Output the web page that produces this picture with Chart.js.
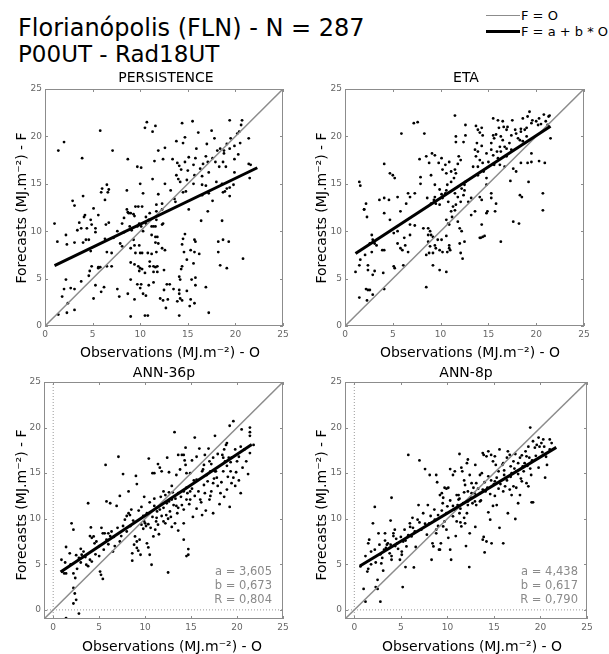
<!DOCTYPE html>
<html>
<head>
<meta charset="utf-8">
<script src="https://cdn.jsdelivr.net/npm/chart.js@4.4.1/dist/chart.umd.min.js"></script>
<style>
body{margin:0;background:#fff;}
#page{position:relative;width:609px;height:654px;overflow:hidden;font-family:"DejaVu Sans",sans-serif;color:#000;}
.box{position:absolute;}
.t{position:absolute;white-space:nowrap;line-height:1;}
.c{transform:translate(-50%,-50%);}
.r{transform:translate(-50%,-50%) rotate(-90deg);}
.stat{position:absolute;white-space:nowrap;font-size:11.5px;color:#8a8a8a;text-align:right;line-height:14px;}
.leg{position:absolute;left:486px;width:34px;}
</style>
</head>
<body>
<div id="page">
  <div class="box" style="left:0;top:68px;width:304px;height:300px"><canvas id="c0"></canvas></div>
  <div class="box" style="left:300px;top:68px;width:304px;height:300px"><canvas id="c1"></canvas></div>
  <div class="box" style="left:0;top:362px;width:304px;height:292px"><canvas id="c2"></canvas></div>
  <div class="box" style="left:300px;top:362px;width:304px;height:292px"><canvas id="c3"></canvas></div>

  <div class="t" style="left:18px;top:16px;font-size:24px">Florianópolis (FLN) - N = 287</div>
  <div class="t" style="left:18px;top:43px;font-size:23px">P00UT - Rad18UT</div>

  <div class="leg" style="top:15px;border-top:1.5px solid #8c8c8c"></div>
  <div class="t" style="left:521px;top:9px;font-size:13px">F = O</div>
  <div class="leg" style="top:30px;border-top:3px solid #000"></div>
  <div class="t" style="left:521px;top:25px;font-size:13px">F = a + b * O</div>

  <div id="labels"></div>
</div>
<script>
var persistencePts = [
[1.4,18.5],[2.0,19.4],[5.8,20.6],[3.9,17.7],[7.1,18.5],[10.7,21.5],[10.5,20.9],[11.6,21.1],[11.3,20.5],[14.4,21.4],[15.5,21.6],[19.4,21.7],[20.7,21.7],[20.6,21.2],[16.1,20.4],[17.5,20.6],[20.4,20.5],[20.2,20.3],[21.4,19.8],[13.8,19.5],[14.7,19.9],[14.5,19.3],[15.9,18.7],[17.0,19.2],[17.8,19.8],[19.5,19.8],[19.1,19.2],[19.9,19.0],[20.5,19.3],[18.4,18.7],[18.1,18.5],[18.8,18.5],[19.4,18.7],[18.8,18.2],[20.3,18.1],[12.6,18.8],[11.9,18.5],[8.7,17.6],[9.7,16.8],[10.1,16.7],[11.5,17.4],[12.4,17.6],[13.4,17.6],[13.9,17.2],[14.1,16.9],[14.7,17.3],[15.1,17.8],[15.8,17.7],[16.6,17.1],[17.1,17.3],[16.9,17.9],[17.6,17.7],[17.9,17.3],[18.7,17.3],[19.0,16.8],[18.3,16.8],[19.9,17.6],[21.4,17.1],[21.6,17.0],[21.5,15.6],[15.6,17.0],[16.3,16.6],[15.0,16.4],[15.7,15.9],[14.3,16.5],[13.8,15.9],[16.5,15.8],[17.2,16.2],[14.0,15.5],[14.2,15.2],[15.6,15.0],[16.5,14.9],[16.9,14.8],[18.0,15.2],[18.6,15.0],[19.1,14.5],[18.7,14.1],[19.4,14.6],[19.8,14.9],[19.9,16.2],[6.0,14.5],[6.5,14.9],[6.7,14.4],[6.6,14.1],[5.9,14.1],[10.0,15.0],[11.3,15.5],[12.6,15.0],[8.6,14.3],[10.3,14.0],[11.9,13.9],[13.2,14.3],[14.5,14.1],[14.8,14.2],[14.9,15.4],[13.6,13.4],[16.5,13.8],[17.2,14.0],[17.6,13.2],[18.9,14.2],[19.4,13.7],[2.9,13.2],[3.1,12.7],[4.0,13.7],[6.3,13.3],[9.5,12.6],[9.8,12.6],[10.2,12.6],[11.7,12.8],[12.3,12.9],[5.1,12.4],[8.6,12.3],[13.7,13.1],[15.1,12.3],
[1.0,10.8],[1.3,8.9],[2.2,9.6],[2.3,8.6],[3.1,8.8],[4.0,8.8],[3.6,10.9],[4.2,11.7],[4.1,11.5],[4.8,11.2],[4.9,10.7],[4.6,9.1],[5.3,9.9],[5.6,11.7],[6.4,10.7],[6.7,10.9],[6.3,9.2],[7.2,9.3],[7.6,10.0],[8.1,10.8],[8.3,11.4],[8.7,12.0],[8.8,11.9],[9.0,11.9],[9.3,11.8],[9.4,11.6],[9.9,10.8],[9.7,10.5],[8.9,10.5],[9.1,10.1],[7.9,8.7],[8.1,8.4],[8.3,9.9],[7.0,7.7],[9.0,8.2],[9.3,9.1],[9.4,8.5],[9.5,7.7],[10.0,7.7],[9.9,8.5],[10.1,10.5],[10.3,10.0],[10.6,10.8],[10.9,11.2],[11.2,10.5],[11.4,10.5],[11.6,10.5],[11.7,12.1],[12.3,12.3],[10.6,11.5],[11.0,11.9],[11.7,11.2],[11.2,9.6],[11.6,9.4],[11.8,9.4],[12.3,10.7],[12.4,10.8],[11.6,8.8],[11.9,8.7],[12.3,8.2],[12.6,8.0],[11.7,7.8],[11.2,7.6],[10.8,7.7],[10.2,7.7],[9.4,6.5],[9.0,6.7],[10.0,6.1],[9.8,6.3],[10.2,6.0],[9.9,5.8],[10.5,5.6],[11.0,6.3],[11.0,6.8],[11.4,6.3],[11.6,6.2],[11.8,6.3],[11.4,5.7],[11.8,5.7],[12.5,5.9],[9.7,4.4],[10.1,4.4],[10.9,4.3],[11.4,4.6],[12.5,3.8],[12.8,4.4],[12.1,2.9],[12.4,2.7],[12.7,1.9],[9.4,2.8],[10.3,3.4],[10.6,3.2],[10.0,4.0],[9.0,4.9],[8.7,3.4],[14.1,3.8],[14.1,3.4],[14.2,2.9],[14.4,2.7],[14.9,3.7],[15.3,2.8],[15.4,4.9],[15.8,4.3],[15.8,5.1],[16.9,4.1],[14.2,4.9],[14.3,6.0],[14.4,6.3],[14.9,7.0],[15.3,8.0],[15.7,7.8],[14.6,7.8],[14.4,8.6],[14.5,9.2],[14.7,9.7],[15.7,9.1],[15.8,8.9],[16.2,7.6],[15.6,6.6],[16.4,11.1],[17.1,12.1],[14.1,5.2],[12.9,2.8],[10.5,1.1],[10.8,1.1],[9.0,1.0],[7.8,3.1],[7.6,3.9],[7.0,6.3],[6.5,6.3],[5.6,6.1],[5.3,4.3],[5.1,2.9],[4.6,5.3],[3.8,4.7],[3.1,3.9],[2.7,4.0],[2.2,4.9],[1.8,3.1],[2.0,3.9],[2.4,2.4],[2.3,1.4],[1.4,1.2],[3.1,1.7],[4.8,7.9],[4.7,5.8],[4.9,6.3],[5.6,6.2],[5.8,6.2],[5.9,3.6],[6.2,4.1],[6.5,7.8],[3.8,10.3],[3.4,10.1],[4.4,10.3],[5.3,10.3],[4.3,9.1],[17.2,1.4],[18.6,11.1],[18.7,9.1],[18.2,7.8],[18.4,6.4],[19.1,6.1],[18.2,8.9],[19.3,8.9],[20.8,7.1],[15.2,2.1],[15.7,2.4],[14.1,1.1],[13.5,3.9],[13.1,4.4],[13.9,2.6]
];
var etaPts = [
[1.5,15.2],[1.6,14.8],[2.2,12.9],[2.0,12.3],[4.1,17.1],[4.7,16.1],[5.0,15.9],[5.2,15.6],[5.9,20.3],[7.2,21.4],[7.6,21.5],[8.3,20.3],[7.9,15.7],[9.1,18.2],[9.4,18.0],[9.0,15.9],[10.1,17.7],[9.8,17.2],[10.2,16.5],[10.6,16.1],[10.5,17.0],[10.9,17.3],[11.1,16.3],[11.5,22.2],[11.6,20.0],[11.6,19.4],[12.6,21.2],[12.6,20.1],[12.4,19.4],[11.9,17.9],[12.1,17.5],[11.8,17.1],[11.5,16.5],[11.6,16.1],[11.4,15.6],[11.1,15.2],[10.7,14.9],[10.6,14.3],[10.5,14.0],[9.9,14.4],[10.1,13.9],[9.4,14.9],[9.4,13.6],[9.3,13.3],[8.6,13.5],[9.0,12.9],[9.5,12.9],[9.9,12.8],[7.3,14.0],[6.6,14.0],[4.6,13.3],[4.1,13.5],[3.6,13.3],[5.5,13.6],[6.4,12.9],[13.7,21.1],[13.9,20.7],[14.3,20.9],[14.1,20.4],[14.4,20.1],[13.8,19.3],[14.3,19.0],[13.6,18.6],[13.9,18.4],[13.7,17.9],[14.1,17.5],[13.4,16.8],[13.9,16.8],[14.4,17.2],[14.5,16.3],[13.9,15.9],[14.8,15.6],[15.3,19.3],[15.5,20.1],[15.6,19.8],[15.8,20.2],[15.5,21.9],[16.0,21.7],[16.5,21.6],[16.6,21.0],[16.1,20.9],[16.9,20.7],[17.0,21.0],[17.5,21.7],[17.8,20.7],[17.4,20.1],[17.9,20.3],[18.1,19.8],[18.4,20.5],[18.6,21.9],[19.1,22.1],[19.3,22.6],[19.5,21.4],[19.6,21.7],[20.0,21.6],[20.2,21.2],[20.3,21.9],[20.5,21.3],[20.8,22.3],[21.0,21.6],[21.2,21.2],[21.3,22.1],[21.4,22.2],[21.5,19.8],[18.3,19.6],[18.6,19.5],[19.0,20.0],[18.8,20.7],[18.4,20.8],[19.0,20.9],[16.3,20.0],[16.5,19.6],[16.2,18.9],[16.7,18.9],[16.9,18.7],[17.2,19.3],[17.4,18.6],[14.8,18.2],[15.3,18.6],[15.5,18.0],[15.9,18.4],[16.0,17.7],[16.3,18.4],[16.9,17.9],[15.0,17.3],[15.6,17.0],[16.2,17.0],[16.7,16.8],[17.6,16.6],[17.9,16.3],[18.4,17.2],[19.1,17.2],[19.2,15.2],[19.5,18.2],[19.5,17.3],[20.3,17.4],[20.9,17.2],[20.7,14.0],[17.3,15.3],[18.3,13.8],[18.5,13.6],[15.3,14.0],[15.3,13.5],[15.8,12.9],[14.1,13.6],[14.3,13.3],[13.2,13.5],[12.9,13.1],[12.4,13.8],[12.5,14.3],[12.5,14.9],[12.6,15.2],[12.2,14.5],[11.5,14.0],[11.8,13.6],[12.1,13.1],[11.3,12.6],[11.6,12.8],[10.8,13.1],[10.2,13.5],[7.9,15.0],[6.8,13.6],[8.8,17.2],[8.5,17.9],[7.8,17.6],[14.8,14.9],
[2.0,12.3],[2.3,11.5],[4.1,11.9],[5.8,12.1],[6.8,10.7],[7.3,10.6],[4.7,11.2],[5.1,9.8],[5.5,10.0],[6.2,9.3],[6.8,9.6],[5.5,8.7],[5.8,8.2],[6.3,8.5],[6.6,7.8],[6.0,8.0],[6.1,6.4],[5.2,6.1],[5.1,6.3],[4.0,5.6],[3.1,5.8],[2.4,5.9],[2.4,6.4],[2.6,8.7],[2.8,9.6],[2.9,9.1],[3.1,8.7],[3.3,8.5],[2.8,7.8],[2.1,7.5],[1.6,7.0],[1.5,6.4],[1.1,5.7],[2.9,5.4],[4.1,8.0],[3.9,8.0],[2.2,3.9],[2.4,3.8],[2.6,3.8],[2.3,2.7],[2.9,3.3],[1.5,3.0],[4.1,3.9],[8.5,4.1],[8.2,10.3],[8.7,10.3],[8.9,10.0],[8.7,9.6],[9.0,9.6],[9.2,9.4],[8.7,8.9],[8.9,8.4],[9.4,8.5],[9.5,8.2],[9.7,9.1],[10.1,9.1],[9.9,8.0],[10.2,7.8],[9.2,7.7],[8.8,7.7],[8.5,7.5],[9.2,6.4],[10.6,9.5],[10.8,10.8],[10.9,10.7],[11.1,12.1],[11.2,11.5],[11.5,12.2],[10.6,11.2],[11.8,11.0],[12.0,10.3],[12.2,10.0],[12.0,8.7],[12.5,8.9],[12.1,7.7],[12.3,7.1],[10.6,5.7],[10.9,8.2],[10.7,7.8],[10.9,8.5],[11.0,8.0],[9.9,5.9],[14.3,10.7],[14.1,9.3],[14.2,9.3],[14.4,9.4],[14.6,9.5],[14.8,11.9],[14.9,12.1],[15.7,12.1],[16.3,8.9],[17.6,11.0],[18.2,10.8],[20.7,12.2],[13.6,12.1],[13.2,11.7]
];
var ann36Pts = [
[5.7,15.9],[7.1,16.8],[7.6,14.9],[9.0,14.7],[9.1,13.8],[8.2,13.0],[10.4,16.6],[11.4,16.0],[11.6,15.6],[10.8,15.0],[11.0,15.0],[11.8,15.2],[12.4,16.7],[12.6,15.1],[13.2,19.5],[13.4,14.8],[13.8,15.4],[13.6,17.0],[14.0,17.0],[14.2,17.0],[14.3,16.4],[14.4,17.8],[14.4,15.9],[14.5,15.0],[15.1,16.4],[15.4,18.9],[15.6,16.8],[15.9,17.7],[16.4,15.9],[16.3,15.4],[16.5,17.0],[16.9,17.7],[16.7,14.8],[17.0,16.3],[17.2,16.0],[17.4,16.7],[17.6,19.1],[17.9,17.1],[17.7,15.2],[17.8,14.5],[18.4,17.0],[18.5,16.7],[18.6,17.6],[18.8,18.1],[18.9,18.3],[18.7,16.3],[18.9,15.8],[19.1,16.7],[19.3,16.2],[19.4,16.7],[19.2,20.2],[19.6,20.7],[19.8,17.6],[20.0,16.3],[20.2,16.8],[20.4,17.9],[20.5,19.8],[20.8,17.6],[21.4,20.0],[21.4,19.5],[21.4,19.1],[21.8,18.1],[21.4,17.2],[18.5,15.2],[19.3,15.2],[19.6,14.5],[19.8,13.6],[20.4,12.8],[18.9,13.2],[18.2,12.8],[17.2,13.0],[17.4,13.9],[16.4,13.7],[15.6,14.3],[15.3,14.2],[14.9,13.0],[14.5,13.4],[14.2,13.0],[13.6,12.8],[12.9,13.6],[12.6,12.9],[12.0,13.0],[12.2,12.6],[11.0,12.2],[9.9,12.4],[14.9,15.0],[16.2,15.2],[17.1,15.2],[17.6,15.2],
[0.9,5.5],[1.0,4.2],[1.2,4.0],[1.4,4.0],[1.4,6.9],[1.8,6.2],[2.0,9.5],[2.2,8.8],[2.4,3.5],[2.2,4.0],[2.6,4.5],[2.8,5.7],[3.0,6.7],[3.1,6.05],[3.3,6.4],[3.6,4.95],[3.8,4.8],[4.0,5.5],[3.8,11.7],[4.0,8.1],[4.1,9.05],[4.2,7.9],[4.4,8.06],[4.5,7.3],[4.7,7.5],[5.0,5.9],[5.1,4.2],[5.2,3.85],[5.4,3.4],[5.25,9.0],[5.4,8.4],[5.6,8.4],[5.8,7.7],[6.0,8.4],[6.2,8.1],[6.35,8.6],[6.2,11.7],[6.5,6.4],[6.7,7.0],[6.9,11.4],[7.25,7.5],[7.6,9.2],[7.8,9.9],[8.0,10.3],[8.2,10.6],[8.35,10.4],[8.5,11.0],[8.7,9.8],[8.9,8.06],[8.6,6.2],[8.6,5.4],[8.8,7.15],[9.1,7.5],[9.1,6.8],[9.25,6.5],[9.4,7.7],[9.5,6.05],[9.6,9.35],[9.8,10.3],[9.9,9.7],[10.0,9.5],[10.1,9.2],[10.35,9.4],[10.2,7.3],[10.35,6.85],[10.5,6.05],[10.7,4.95],[10.9,8.06],[11.1,8.8],[11.2,9.7],[11.25,10.1],[11.4,9.35],[11.6,11.0],[11.8,10.3],[12.0,9.7],[12.2,9.5],[12.35,11.7],[12.5,10.0],[12.7,10.8],[12.9,12.1],[13.1,11.5],[13.25,9.5],[13.4,11.4],[13.6,11.2],[14.0,11.5],[14.2,9.5],[14.2,7.7],[14.5,5.9],[14.7,6.05],[14.7,6.67],[12.5,4.1],[15.6,11.1],[16.2,10.4],[17.4,10.6],[16.0,12.1],[19.2,11.3],[14.9,12.1],[14.5,12.1],[17.1,12.5],[5.8,11.9],[7.25,12.5],[2.2,2.4],[2.35,1.8],[2.2,0.7],[1.4,-0.9],[2.8,-0.4],[2.5,1.1],
[9.3,10.9],[9.6,11.3],[10.2,10.6],[10.5,11.8],[10.8,10.2],[11.0,11.4],[11.3,10.8],[11.7,12.4],[12.0,11.2],[12.3,10.4],[12.6,11.9],[12.8,10.2],[13.0,12.9],[13.3,12.2],[13.5,10.6],[13.9,12.4],[14.2,11.0],[14.6,12.8],[14.8,11.6],[15.1,13.3],[15.4,12.5],[15.8,13.0],[16.1,11.8],[16.5,12.8],[16.8,14.1],[17.0,12.1],[17.5,14.4],[17.9,13.6],[18.3,14.0],[18.6,12.4],[19.0,14.6],[19.4,13.9],[19.9,15.1],[20.2,14.2],[20.6,15.6],[21.0,16.3],[21.2,14.9],[8.4,9.2],[8.0,8.6],[7.4,8.1],[7.0,9.0],[6.6,8.0],[6.0,7.2],[5.5,6.6],[5.0,7.0],[4.6,6.1],[4.2,5.3],[3.5,5.8],[3.0,5.2],[2.5,6.0],[1.9,5.0],[1.3,5.2],[9.8,8.9],[10.6,9.0],[11.5,8.3],[12.9,9.1],[13.6,8.7],[15.2,10.2],[16.6,10.9],[18.1,11.6]
];
var ann8Pts = [
[4.0,12.3],[5.8,17.0],[7.0,16.4],[7.6,15.45],[8.1,14.8],[8.8,14.8],[8.9,14.0],[9.2,12.6],[9.4,12.8],[9.7,13.4],[9.9,13.3],[10.1,13.4],[10.3,15.45],[10.6,14.8],[10.8,15.2],[11.3,17.1],[11.5,15.6],[11.6,15.2],[11.8,14.2],[11.9,13.7],[12.1,16.1],[12.2,16.5],[12.4,14.8],[12.6,13.9],[12.8,13.4],[13.0,15.9],[13.1,13.9],[13.5,14.8],[13.7,15.0],[13.8,17.2],[13.9,17.0],[14.2,16.85],[14.4,17.4],[14.7,17.0],[14.9,16.3],[15.1,16.85],[15.2,15.9],[15.5,15.2],[15.6,17.6],[15.9,15.9],[16.0,16.1],[16.1,14.8],[16.4,16.7],[16.5,17.4],[16.7,17.0],[16.8,15.75],[16.9,15.0],[17.1,16.3],[17.3,17.1],[17.4,15.2],[17.6,14.9],[17.8,16.7],[18.0,16.96],[18.1,15.75],[18.3,16.1],[18.4,17.4],[18.5,16.85],[18.7,17.9],[18.8,16.7],[18.9,15.5],[18.9,20.0],[19.0,14.8],[19.2,18.5],[19.4,17.8],[19.6,18.1],[19.8,18.9],[19.9,17.9],[20.1,18.3],[20.3,18.7],[20.4,17.9],[20.7,15.9],[21.0,18.7],[21.2,18.3],[20.5,14.5],[18.5,13.9],[18.7,13.55],[18.0,14.1],[17.4,13.4],[17.1,13.55],[16.7,13.2],[16.2,13.55],[16.0,13.0],[15.5,13.3],[15.1,14.1],[14.7,14.2],[14.4,14.65],[14.1,13.0],[13.8,13.2],[13.5,12.8],[13.1,12.6],[12.6,12.8],[12.2,13.0],[11.2,12.6],[11.3,12.2],
[0.66,4.77],[1.0,2.3],[1.4,4.2],[1.5,4.5],[1.5,7.3],[1.6,7.7],[1.8,6.4],[2.0,9.5],[2.2,11.3],[2.3,5.2],[2.5,2.3],[2.3,2.5],[2.5,3.3],[2.6,8.4],[2.7,7.15],[2.8,0.9],[2.9,5.1],[3.0,5.7],[3.1,4.3],[3.2,6.6],[3.3,8.4],[3.4,6.8],[3.5,7.15],[3.6,7.3],[3.8,6.8],[3.9,9.8],[3.9,7.15],[4.0,5.9],[4.0,5.5],[4.2,8.1],[4.2,8.4],[4.35,8.8],[4.5,7.8],[4.6,7.3],[4.7,6.7],[4.9,5.5],[5.1,6.4],[5.1,6.05],[5.2,2.5],[5.25,7.5],[5.4,8.8],[5.5,4.7],[5.6,6.96],[5.8,8.2],[5.97,9.5],[6.15,8.06],[6.25,10.1],[6.3,9.0],[6.4,4.66],[6.5,8.6],[6.6,6.9],[6.9,11.5],[7.0,9.6],[7.4,10.6],[7.6,9.45],[7.8,8.25],[7.9,11.5],[8.05,9.5],[8.3,5.5],[8.4,7.3],[8.5,6.96],[8.65,9.9],[8.8,8.8],[9.0,9.2],[8.8,8.4],[9.1,6.6],[9.2,6.6],[9.3,7.3],[9.4,10.9],[9.55,12.3],[9.55,9.16],[9.7,9.7],[9.9,8.8],[10.0,11.36],[10.1,7.9],[10.3,6.6],[10.4,5.5],[10.6,10.26],[10.8,11.0],[11.0,9.7],[11.1,11.5],[11.2,12.1],[11.3,10.6],[11.4,9.6],[11.5,9.16],[11.7,11.7],[11.8,10.1],[11.9,9.5],[12.1,10.6],[12.2,11.5],[12.35,4.7],[12.4,8.4],[12.7,11.7],[12.96,11.9],[13.1,11.5],[13.5,11.9],[13.8,7.7],[13.9,8.0],[14.0,6.3],[14.2,7.5],[14.4,10.7],[14.6,9.9],[14.75,7.3],[14.9,11.4],[15.1,12.5],[15.3,11.5],[16.0,7.3],[16.9,12.6],[17.3,9.97],[17.6,11.7],[17.8,12.6],[19.05,11.8],[19.2,11.8],[1.2,0.9],
[8.2,10.3],[8.6,11.0],[9.0,10.4],[9.5,11.7],[9.9,10.6],[10.3,12.0],[10.6,11.4],[11.0,12.6],[11.4,11.1],[11.8,12.9],[12.2,11.9],[12.5,12.3],[12.9,12.8],[13.3,13.3],[13.6,12.0],[14.0,14.0],[14.3,13.4],[14.6,12.7],[15.0,13.8],[15.3,14.5],[15.7,13.8],[16.1,15.3],[16.4,14.2],[16.8,14.6],[17.2,15.5],[17.6,16.1],[17.9,14.4],[18.2,15.2],[18.6,15.8],[19.1,16.4],[19.5,16.9],[19.8,15.6],[20.2,17.3],[20.6,16.8],[21.0,17.6],[7.2,8.8],[6.8,9.9],[6.0,9.1],[5.5,7.6],[5.0,8.0],[4.4,7.0],[3.8,6.2],[3.3,7.6],[2.8,6.1],[2.2,6.6],[1.8,5.0],[1.2,5.9],[10.9,8.1],[12.0,7.0],[13.0,9.1],[15.6,9.0],[16.5,10.6]
];

var panelTitles = ['PERSISTENCE', 'ETA', 'ANN-36p', 'ANN-8p'];
var panelPts = [persistencePts, etaPts, ann36Pts, ann8Pts];
// fitted line F = a + b*O and its O range
var fitA = [5.88, 6.93, 3.605, 4.438];
var fitB = [0.485, 0.658, 0.673, 0.617];
var fitX0 = [1.0, 1.1, 0.8, 0.6];
var fitX1 = [22.3, 21.5, 21.6, 21.7];
var statA = [null, null, '3,605', '4,438'];
var statB = [null, null, '0,673', '0,617'];
var statR = [null, null, '0,804', '0,790'];
var axisMin = [0, 0, -1, -1];
var axisMax = 25;
var xTitle = 'Observations (MJ.m\u207B\u00B2) - O';
var yTitle = 'Forecasts (MJ.m\u207B\u00B2) - F';

// layout of each panel (canvas box and axis sizes), page px
var layout = [
  {left: 0,   top: 68,  yW: 45, xH: 42, padTop: 21, padRight: 21},
  {left: 300, top: 68,  yW: 45, xH: 42, padTop: 21, padRight: 20},
  {left: 0,   top: 362, yW: 44, xH: 35, padTop: 20, padRight: 21},
  {left: 300, top: 362, yW: 45, xH: 35, padTop: 20, padRight: 17}
];

var frameTicks = {
  id: 'frameTicks',
  afterDatasetsDraw: function(chart) {
    var ctx = chart.ctx, a = chart.chartArea, x = chart.scales.x, y = chart.scales.y;
    ctx.save();
    ctx.strokeStyle = '#8c8c8c';
    ctx.lineWidth = 1;
    ctx.strokeRect(Math.round(a.left) + 0.5, Math.round(a.top) + 0.5, Math.round(a.right - a.left) - 1, Math.round(a.bottom - a.top) - 1);
    ctx.beginPath();
    x.ticks.forEach(function(t) {
      var px = Math.round(x.getPixelForValue(t.value)) + 0.5;
      ctx.moveTo(px, a.bottom); ctx.lineTo(px, a.bottom - 3);
      ctx.moveTo(px, a.top); ctx.lineTo(px, a.top + 3);
    });
    y.ticks.forEach(function(t) {
      var py = Math.round(y.getPixelForValue(t.value)) + 0.5;
      ctx.moveTo(a.left, py); ctx.lineTo(a.left + 3, py);
      ctx.moveTo(a.right, py); ctx.lineTo(a.right - 3, py);
    });
    ctx.stroke();
    ctx.restore();
  }
};

function makePanel(i) {
  var L = layout[i];
  var mn = axisMin[i];
  var datasets = [];
  datasets.push({
    type: 'line',
    data: [{x: fitX0[i], y: fitA[i] + fitB[i] * fitX0[i]}, {x: fitX1[i], y: fitA[i] + fitB[i] * fitX1[i]}],
    borderColor: '#000', borderWidth: 3, pointRadius: 0, order: 1
  });
  datasets.push({
    type: 'line',
    data: [{x: mn, y: mn}, {x: axisMax, y: axisMax}],
    borderColor: '#8c8c8c', borderWidth: 1.5, pointRadius: 0, order: 2
  });
  if (mn < 0) {
    datasets.push({type: 'line', data: [{x: 0, y: mn}, {x: 0, y: axisMax}], borderColor: '#999', borderWidth: 1, borderDash: [1, 2], pointRadius: 0, order: 4});
    datasets.push({type: 'line', data: [{x: mn, y: 0}, {x: axisMax, y: 0}], borderColor: '#999', borderWidth: 1, borderDash: [1, 2], pointRadius: 0, order: 4});
  }
  datasets.push({
    type: 'scatter',
    data: panelPts[i].map(function(p) { return {x: p[0], y: p[1]}; }),
    backgroundColor: '#000', borderWidth: 0, pointRadius: 1.4, order: 3
  });

  var tickFont = {family: 'DejaVu Sans', size: 9};
  new Chart(document.getElementById('c' + i), {
    data: {datasets: datasets},
    options: {
      responsive: true,
      maintainAspectRatio: false,
      animation: false,
      events: [],
      layout: {padding: {top: L.padTop, right: L.padRight, left: 0, bottom: 0}},
      plugins: {legend: {display: false}, tooltip: {enabled: false}},
      scales: {
        x: {
          type: 'linear', min: mn, max: axisMax,
          grid: {display: false, drawTicks: false},
          border: {display: false},
          ticks: {stepSize: 5, includeBounds: false, color: '#666', font: tickFont, padding: 3, maxRotation: 0},
          afterFit: function(s) { s.height = L.xH; }
        },
        y: {
          type: 'linear', min: mn, max: axisMax,
          grid: {display: false, drawTicks: false},
          border: {display: false},
          ticks: {stepSize: 5, includeBounds: false, color: '#666', font: tickFont, padding: 3},
          afterFit: function(s) { s.width = L.yW; }
        }
      }
    },
    plugins: [frameTicks]
  });
}

var labels = document.getElementById('labels');
function addText(html, cls, style) {
  var d = document.createElement('div');
  d.className = cls;
  d.setAttribute('style', style);
  d.textContent = html;
  labels.appendChild(d);
}

// text positions for each panel
var titlePos = [[166, 77], [466, 77], [164, 372], [466, 372]];
var xTitlePos = [[170, 352], [470, 352], [172, 646], [472, 646]];
var yTitlePos = [[21, 208], [321, 208], [21, 505], [321, 505]];
var statRight = [0, 0, 272, 578];
var statTop = 564;

for (var i = 0; i < 4; i++) {
  makePanel(i);
  addText(panelTitles[i], 't c', 'left:' + titlePos[i][0] + 'px;top:' + titlePos[i][1] + 'px;font-size:14px');
  addText(xTitle, 't c', 'left:' + xTitlePos[i][0] + 'px;top:' + xTitlePos[i][1] + 'px;font-size:14px');
  addText(yTitle, 't r', 'left:' + yTitlePos[i][0] + 'px;top:' + yTitlePos[i][1] + 'px;font-size:14px');
  if (statA[i]) {
    var st = 'right:' + (609 - statRight[i]) + 'px;top:';
    addText('a = ' + statA[i], 'stat', st + statTop + 'px');
    addText('b = ' + statB[i], 'stat', st + (statTop + 14) + 'px');
    addText('R = ' + statR[i], 'stat', st + (statTop + 28) + 'px');
  }
}
</script>
</body>
</html>
